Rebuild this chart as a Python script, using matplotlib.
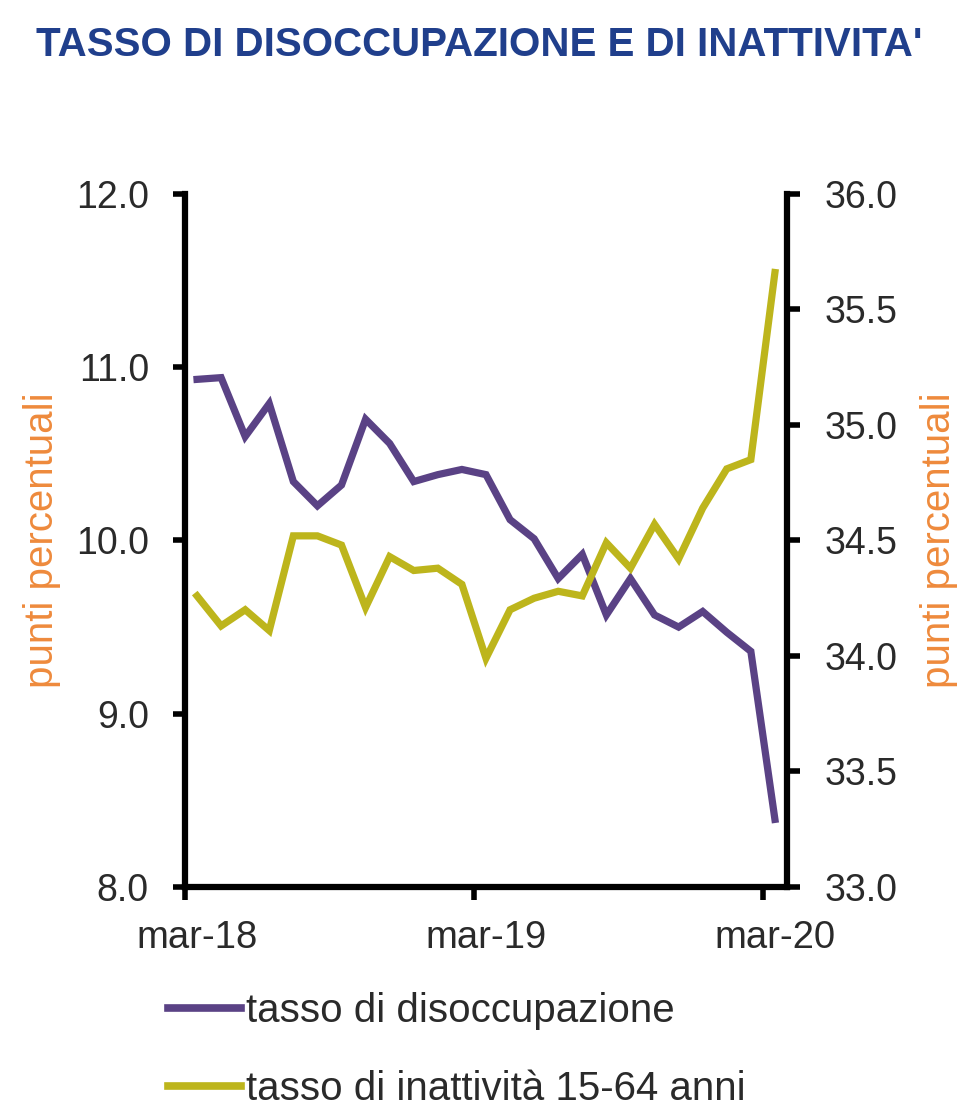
import matplotlib
matplotlib.use("Agg")
import matplotlib.pyplot as plt
from matplotlib.lines import Line2D

# ---- data ----
months = ["mar-18", "apr-18", "mag-18", "giu-18", "lug-18", "ago-18", "set-18", "ott-18",
          "nov-18", "dic-18", "gen-19", "feb-19", "mar-19", "apr-19", "mag-19", "giu-19",
          "lug-19", "ago-19", "set-19", "ott-19", "nov-19", "dic-19", "gen-20", "feb-20",
          "mar-20"]
disoccupazione = [10.93, 10.94, 10.60, 10.79, 10.34, 10.20, 10.32, 10.70, 10.56, 10.34,
                  10.38, 10.41, 10.38, 10.12, 10.01, 9.78, 9.92, 9.57, 9.78, 9.57,
                  9.50, 9.59, 9.47, 9.36, 8.39]
inattivita = [34.26, 34.13, 34.20, 34.11, 34.52, 34.52, 34.48, 34.21, 34.43, 34.37,
              34.38, 34.31, 33.99, 34.20, 34.25, 34.28, 34.26, 34.49, 34.38, 34.57,
              34.42, 34.64, 34.81, 34.85, 35.66]
series_names = ["tasso di disoccupazione", "tasso di inattività 15-64 anni"]
left_ticks = [8.0, 9.0, 10.0, 11.0, 12.0]
right_ticks = [33.0, 33.5, 34.0, 34.5, 35.0, 35.5, 36.0]
xlabel_months = ["mar-18", "mar-19", "mar-20"]
title = "TASSO DI DISOCCUPAZIONE E DI INATTIVITA'"
ylabel = "punti percentuali"

# ---- style ----
FONT = ["Liberation Sans", "DejaVu Sans"]
purple = "#5A4285"
yellow = "#BDB51C"
orange = "#EE8A3C"
navy = "#203F8C"
tickcol = "#2A2A2A"

fig = plt.figure(figsize=(9.61, 11.13), dpi=100)
ax = fig.add_axes([0.1925, 0.2031, 0.6264, 0.6226])
ax2 = ax.twinx()

x = list(range(len(months)))
ax.plot(x, disoccupazione, color=purple, lw=5.2, solid_joinstyle="miter", zorder=3)
ax2.plot(x, inattivita, color=yellow, lw=5.2, solid_joinstyle="miter", zorder=3)

ax.set_xlim(-0.5, len(months) - 0.5)
ax.set_ylim(8.0, 12.0)
ax2.set_ylim(33.0, 36.0)

ax.set_yticks(left_ticks)
ax.set_yticklabels([f"{v:.1f}" for v in left_ticks], fontfamily=FONT, fontsize=27, color=tickcol)
ax2.set_yticks(right_ticks)
ax2.set_yticklabels([f"{v:.1f}" for v in right_ticks], fontfamily=FONT, fontsize=27, color=tickcol)

# x labels centred on categories, tick marks between categories
lab_pos = [months.index(m) for m in xlabel_months]
ax.set_xticks(lab_pos)
ax.set_xticklabels(xlabel_months, fontfamily=FONT, fontsize=27.5, color=tickcol)
ax.tick_params(axis="x", which="major", length=0, pad=24)
ax.set_xticks([p - 0.5 for p in lab_pos], minor=True)
ax.tick_params(axis="x", which="minor", length=9, width=4, direction="out", color="black")

ax.tick_params(axis="y", length=9, width=4, direction="out", pad=17, color="black")
ax2.tick_params(axis="y", length=9, width=4, direction="out", pad=18, color="black")

for a in (ax, ax2):
    a.spines["top"].set_visible(False)
    for s in ("left", "right", "bottom"):
        a.spines[s].set_linewidth(4.5)
        a.spines[s].set_color("black")
ax.spines["right"].set_visible(False)
ax2.spines["left"].set_visible(False)
ax2.spines["bottom"].set_visible(False)

fig.text(0.044, 0.515, ylabel, rotation=90, ha="center", va="center",
         fontfamily=FONT, fontsize=29, color=orange)
fig.text(0.977, 0.515, ylabel, rotation=90, ha="center", va="center",
         fontfamily=FONT, fontsize=29, color=orange)

fig.text(0.4985, 0.9595, title, ha="center", va="center", fontfamily=FONT,
         fontweight="bold", fontsize=29, color=navy)

handles = [Line2D([], [], color=purple, lw=5.5), Line2D([], [], color=yellow, lw=5.5)]
leg = fig.legend(handles, series_names, loc="upper left", bbox_to_anchor=(0.175, 0.109),
                 frameon=False, prop={"family": FONT, "size": 29},
                 handlelength=1.82, handletextpad=0.1, labelspacing=1.0,
                 borderaxespad=0, borderpad=0)
for t in leg.get_texts():
    t.set_color(tickcol)

fig.savefig("out.png", dpi=100, facecolor="white")
